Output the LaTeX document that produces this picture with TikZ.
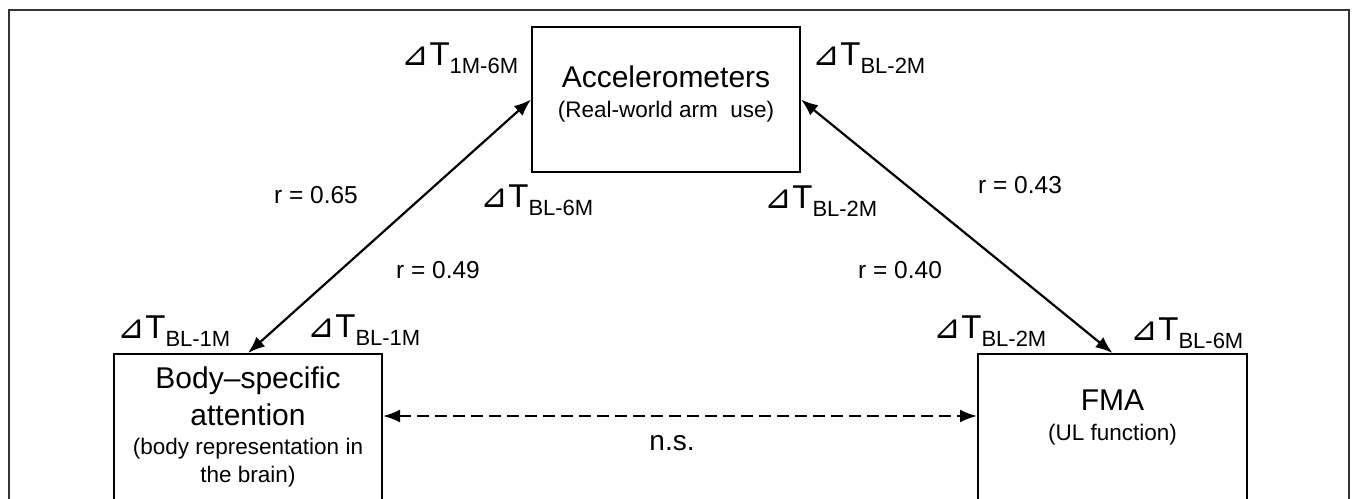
\documentclass[tikz,border=0pt]{standalone}
\usepackage{fontspec}
\setmainfont{Liberation Sans}
\newfontfamily\symfont{DejaVu Sans}
\usepackage{xcolor}
\usepackage{tikz}
\usetikzlibrary{positioning}
\usetikzlibrary{arrows.meta}
\tikzset{edge/.style = {<->,> = {Latex[length=17pt,width=13pt]},line width=2.2pt}}
\newcommand{\dT}[1]{{\fontsize{33}{33}\selectfont{\symfont ⊿}T}\raisebox{-8pt}{\fontsize{22}{22}\selectfont #1}}

\begin{document}
\begin{tikzpicture}[x=1pt,y=-1pt,box/.style={rectangle,draw,line width=2pt,minimum width=268pt},title/.style={anchor=base,font=\fontsize{30}{30}\selectfont},sub/.style={anchor=base,font=\fontsize{22.5}{22.5}\selectfont},dlabel/.style={anchor=base},rlabel/.style={anchor=base,font=\fontsize{24.5}{24.5}\selectfont}]
                \useasboundingbox (0,0) rectangle (1356,498);
                \clip (0,0) rectangle (1356,498);
                \draw[line width=1.5pt,black!80] (9,520) -- (9,10) -- (1349,10) -- (1349,520);

                \node[box,minimum height=145pt] (acc) at (666,99.5) {};
                \node[box,minimum height=160pt] (body) at (248,434) {};
                \node[box,minimum width=269pt,minimum height=160pt] (fma) at (1112.5,434) {};

                \node[title] (acctitle) at (666,87) {Accelerometers};
                \node[sub] (accsub) at (666,117) {(Real-world arm\ \ use)};
                \node[title] (bodytitle) at (248,388) {Body–specific};
                \node[title] (bodytitle2) at (248,425) {attention};
                \node[sub] (bodysub) at (248,454) {(body representation in};
                \node[sub] (bodysub2) at (248,482) {the brain)};
                \node[title] (fmatitle) at (1112.5,410) {FMA};
                \node[sub] (fmasub) at (1112.5,440) {(UL function)};

                \draw[edge] (acc.west) -- (body.north);
                \draw[edge] (acc.east) -- (fma.north);
                \draw[edge,dash pattern=on 12pt off 6pt] ([yshift=18pt]body.east) -- ([yshift=18pt]fma.west);

                \node[rlabel] (r1) at (316,203) {r = 0.65};
                \node[rlabel] (r2) at (438,278) {r = 0.49};
                \node[rlabel] (r3) at (1020,193) {r = 0.43};
                \node[rlabel] (r4) at (900,278) {r = 0.40};
                \node[rlabel,font=\fontsize{28}{28}\selectfont] (ns) at (672,450) {n.s.};

                \node[dlabel] (d1) at (460,65) {\dT{1M-6M}};
                \node[dlabel] (d2) at (869,65) {\dT{BL-2M}};
                \node[dlabel] (d3) at (537,207) {\dT{BL-6M}};
                \node[dlabel] (d4) at (821,208) {\dT{BL-2M}};
                \node[dlabel] (d5) at (174,338) {\dT{BL-1M}};
                \node[dlabel] (d6) at (364,337) {\dT{BL-1M}};
                \node[dlabel] (d7) at (990,338) {\dT{BL-2M}};
                \node[dlabel] (d8) at (1187,340) {\dT{BL-6M}};
            \end{tikzpicture}
\end{document}
